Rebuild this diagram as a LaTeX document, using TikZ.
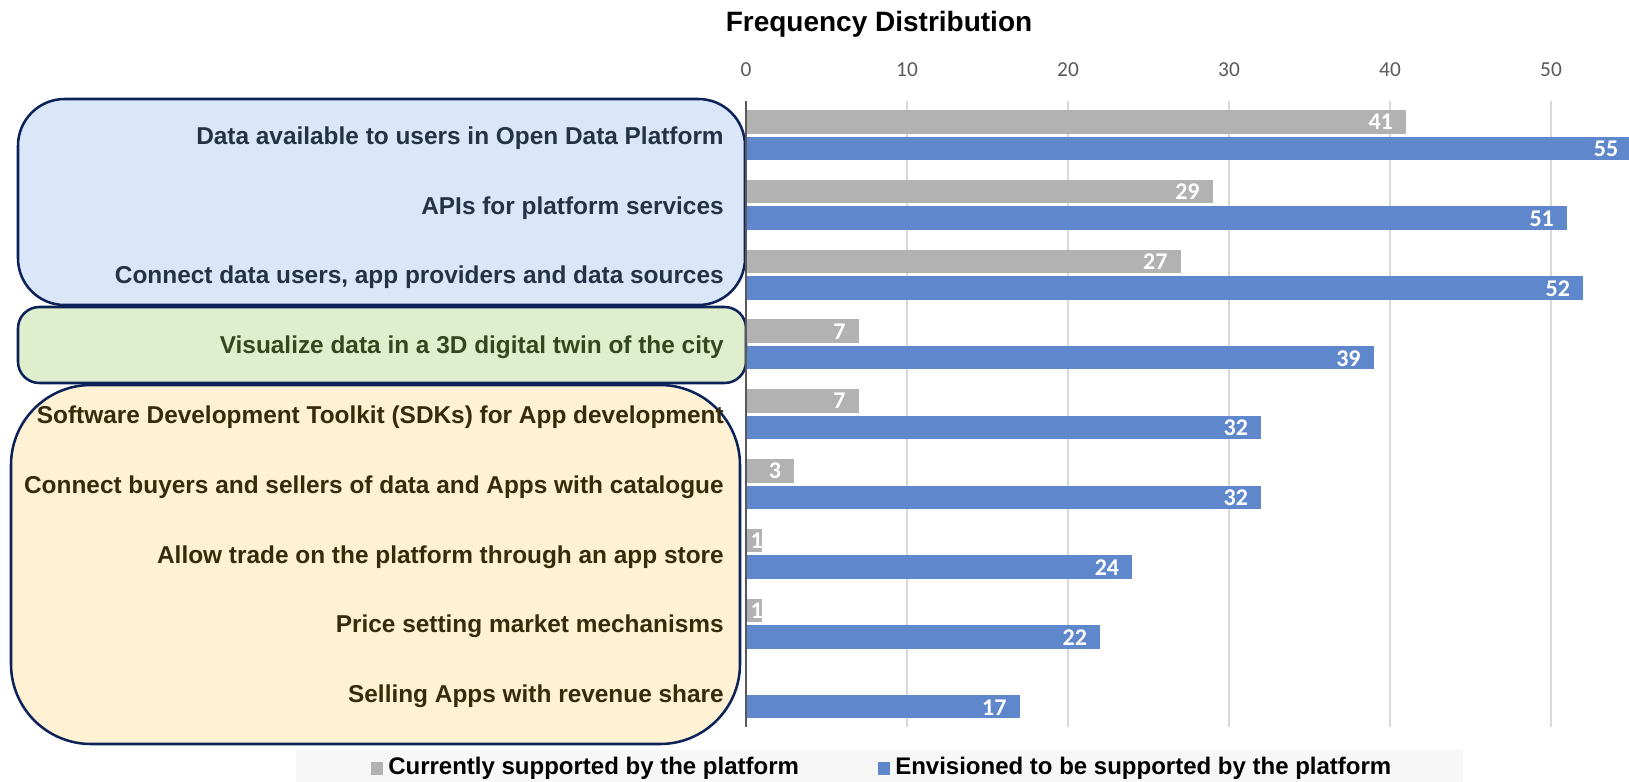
\documentclass[tikz,border=0pt]{standalone}
\usepackage{fontspec}
\setmainfont{Liberation Sans}
\newfontfamily\calibri{Carlito}
\definecolor{graybar}{HTML}{B2B2B2}
\definecolor{bluebar}{HTML}{5F87CB}
\definecolor{navyline}{HTML}{0C2259}
\definecolor{boxblue}{HTML}{DAE7F8}
\definecolor{boxgreen}{HTML}{DFEFCE}
\definecolor{boxyellow}{HTML}{FFF1D3}
\definecolor{txtblue}{HTML}{233247}
\definecolor{txtgreen}{HTML}{34481F}
\definecolor{txtyellow}{HTML}{352C0C}
\definecolor{tickgray}{HTML}{595959}
\definecolor{legendbg}{HTML}{F7F7F7}
\begin{document}
\begin{tikzpicture}[x=0.75pt,y=-0.75pt,
  grp/.style={draw=navyline, line width=1.9pt},
  gridline/.style={draw=black!15, line width=0.9pt},
  tick/.style={font=\calibri\fontsize{16}{19}\selectfont, text=tickgray},
  val/.style={font=\calibri\bfseries\fontsize{18}{21}\selectfont, text=white, anchor=east, inner sep=0pt},
  lab/.style={font=\bfseries\fontsize{18.3}{21}\selectfont, anchor=east, inner sep=0pt},
  legtext/.style={font=\bfseries\fontsize{18}{21}\selectfont, anchor=west, inner sep=0pt}]
\useasboundingbox (0,0) rectangle (1629,782);
\clip (0,0) rectangle (1629,782);

\node[font=\bfseries\fontsize{21}{25}\selectfont] (title) at (879,24) {Frequency Distribution};

% groups of features
\draw[grp, fill=boxblue, rounded corners=35] (18,99) rectangle (745,305);
\draw[grp, fill=boxgreen, rounded corners=16] (18,307) rectangle (746,383);
\draw[grp, fill=boxyellow, rounded corners=60] (11,385) rectangle (740,744);

% grid and ticks
\foreach \v in {10,20,...,50}
  \draw[gridline] (746+16.1*\v,101) -- (746+16.1*\v,727);
\foreach \v in {0,10,...,50}
  \node[tick] (t\v) at (746+16.1*\v,70) {\v};

% bars
\foreach \i/\g/\b in {0/41/55,1/29/51,2/27/52,3/7/39,4/7/32,5/3/32,6/1/24,7/1/22,8/0/17}{
  \ifnum\g>0
    \fill[graybar] (746,135+69.8*\i-25) rectangle ++(16.1*\g,23.5);
    \ifnum\g>2
      \node[val] (g\i) at (746+16.1*\g-13,135+69.8*\i-13) {\g};
    \else
      \node[val] (g\i) at (746+16.1*\g+1,135+69.8*\i-13) {\g};
    \fi
  \fi
  \fill[bluebar] (746,135+69.8*\i+1.5) rectangle ++(16.1*\b,23.5);
  \node[val] (b\i) at (746+16.1*\b-13,135+69.8*\i+14) {\b};
}
\draw[draw=tickgray, line width=2.2pt] (746,101) -- (746,727);

% labels
\foreach \i/\txt/\col in {0/{Data available to users in Open Data Platform}/txtblue,
  1/{APIs for platform services}/txtblue,
  2/{Connect data users, app providers and data sources}/txtblue,
  3/{Visualize data in a 3D digital twin of the city}/txtgreen,
  4/{Software Development Toolkit (SDKs) for App development}/txtyellow,
  5/{Connect buyers and sellers of data and Apps with catalogue}/txtyellow,
  6/{Allow trade on the platform through an app store}/txtyellow,
  7/{Price setting market mechanisms}/txtyellow,
  8/{Selling Apps with revenue share}/txtyellow}
  \node[lab, text=\col] (l\i) at (724,138+69.8*\i) {\txt};

% legend
\fill[legendbg] (296,750) rectangle (1463,782);
\fill[graybar] (371,762) rectangle (383,775);
\node[legtext] (leg1) at (388,768) {Currently supported by the platform};
\fill[bluebar] (878,762) rectangle (890,775);
\node[legtext] (leg2) at (895,768) {Envisioned to be supported by the platform};

\end{tikzpicture}
\end{document}
